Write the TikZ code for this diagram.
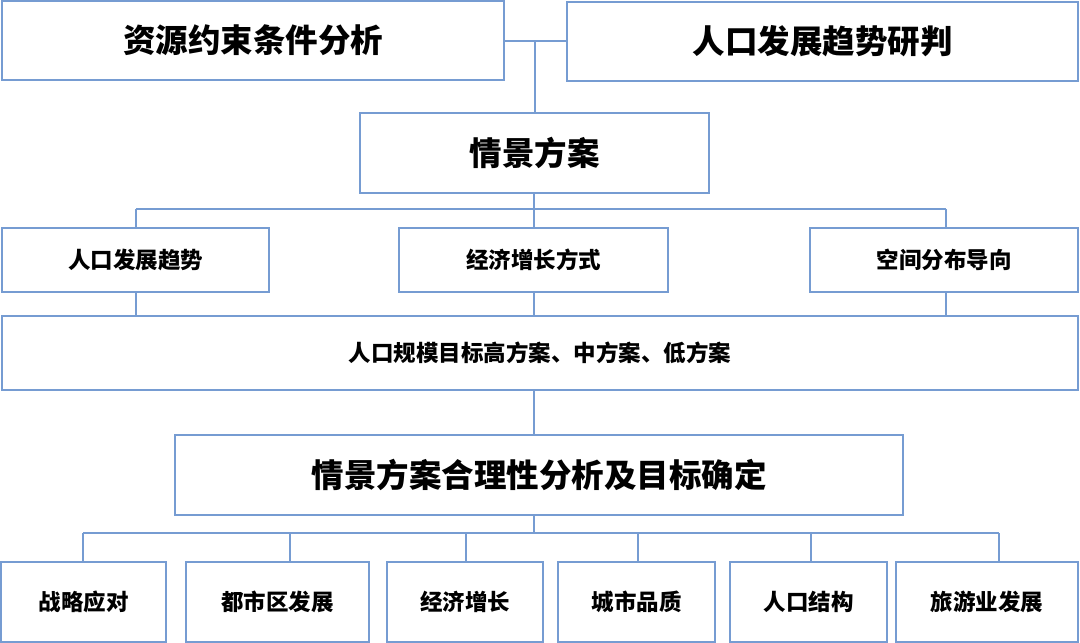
\documentclass[tikz,border=0pt]{standalone}
\usepackage{fontspec}
\newfontfamily\cjk{Noto Sans CJK SC}
\definecolor{linec}{RGB}{118,156,210}
\begin{document}
\begin{tikzpicture}[x=1pt,y=-1pt,
  box/.style={draw=linec,line width=1.3pt,inner sep=0pt,fill=white,font=\cjk\bfseries},
  big/.style={box,font=\cjk\bfseries\fontsize{32.5}{38}\selectfont},
  small/.style={box,font=\cjk\bfseries\fontsize{22.5}{27}\selectfont},
  conn/.style={draw=linec,line width=1.3pt}]
\useasboundingbox (0,0) rectangle (1080,643);
\fill[white] (0,0) rectangle (1080,643);
\node[big,minimum width=502pt,minimum height=79pt] (A) at (253,40.5) {资源约束条件分析};
\node[big,minimum width=511pt,minimum height=79pt] (B) at (822.5,41.5) {人口发展趋势研判};
\node[big,minimum width=349pt,minimum height=80pt] (C) at (534.5,153) {情景方案};
\node[small,minimum width=267pt,minimum height=64pt] (D1) at (135.5,260) {人口发展趋势};
\node[small,minimum width=269pt,minimum height=64pt] (D2) at (533.5,260) {经济增长方式};
\node[small,minimum width=268pt,minimum height=64pt] (D3) at (944,260) {空间分布导向};
\node[small,minimum width=1076pt,minimum height=74pt] (E) at (540,353) {人口规模目标高方案、中方案、低方案};
\node[big,minimum width=728pt,minimum height=80pt] (F) at (539,475) {情景方案合理性分析及目标确定};
\node[small,minimum width=165pt,minimum height=80pt] (G1) at (83.5,602) {战略应对};
\node[small,minimum width=183pt,minimum height=80pt] (G2) at (277.5,602) {都市区发展};
\node[small,minimum width=156pt,minimum height=80pt] (G3) at (465,602) {经济增长};
\node[small,minimum width=157pt,minimum height=80pt] (G4) at (636.5,602) {城市品质};
\node[small,minimum width=157pt,minimum height=80pt] (G5) at (808.5,602) {人口结构};
\node[small,minimum width=182pt,minimum height=80pt] (G6) at (987,602) {旅游业发展};
% junction coordinates
\coordinate (j0) at (535,41);
\coordinate (j1) at (534,209);
\coordinate (jl) at (136,209);
\coordinate (jr) at (946,209);
\coordinate (k1) at (136,292);
\coordinate (k3) at (946,292);
\coordinate (m0) at (534,390);
\coordinate (n0) at (534,533);
\coordinate (b1) at (83,533);
\coordinate (b2) at (290,533);
\coordinate (b3) at (466,533);
\coordinate (b4) at (638,533);
\coordinate (b5) at (811,533);
\coordinate (b6) at (999,533);
% connectors
\draw[conn] (A.east |- j0) -- (B.west |- j0);
\draw[conn] (j0) -- (j0 |- C.north);
\draw[conn] (C.south -| j1) -- (j1);
\draw[conn] (jl) -- (jr);
\draw[conn] (jl) -- (jl |- D1.north);
\draw[conn] (j1) -- (j1 |- D2.north);
\draw[conn] (jr) -- (jr |- D3.north);
\draw[conn] (k1) -- (k1 |- E.north);
\draw[conn] (D2.south -| j1) -- (j1 |- E.north);
\draw[conn] (k3) -- (k3 |- E.north);
\draw[conn] (m0) -- (m0 |- F.north);
\draw[conn] (F.south -| n0) -- (n0);
\draw[conn] (b1) -- (b6);
\draw[conn] (b1) -- (b1 |- G1.north);
\draw[conn] (b2) -- (b2 |- G2.north);
\draw[conn] (b3) -- (b3 |- G3.north);
\draw[conn] (b4) -- (b4 |- G4.north);
\draw[conn] (b5) -- (b5 |- G5.north);
\draw[conn] (b6) -- (b6 |- G6.north);
\end{tikzpicture}
\end{document}
